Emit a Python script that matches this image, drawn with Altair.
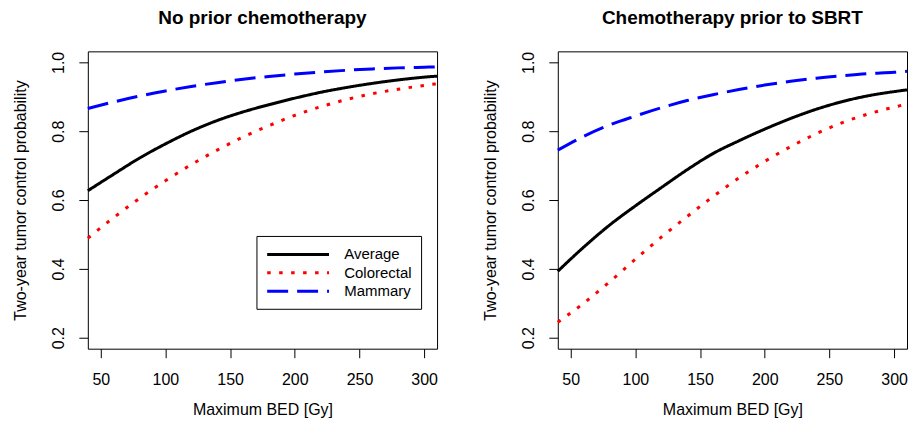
import altair as alt
import pandas as pd

# Maximum BED [Gy] sample points
bed = [40, 60, 80, 100, 120, 140, 160, 180, 200, 220, 240, 260, 280, 300, 310]
series_names = ["Average", "Colorectal", "Mammary"]

# Panel 1: No prior chemotherapy
no_chemo_average = [0.627, 0.675, 0.722, 0.763, 0.800, 0.831, 0.856, 0.877, 0.896, 0.913, 0.927, 0.939, 0.949, 0.957, 0.960]
no_chemo_colorectal = [0.489, 0.549, 0.605, 0.656, 0.703, 0.745, 0.783, 0.816, 0.846, 0.871, 0.892, 0.909, 0.922, 0.933, 0.938]
no_chemo_mammary = [0.866, 0.885, 0.902, 0.917, 0.930, 0.941, 0.951, 0.959, 0.966, 0.972, 0.977, 0.981, 0.984, 0.986, 0.987]

# Panel 2: Chemotherapy prior to SBRT
chemo_average = [0.393, 0.463, 0.527, 0.583, 0.636, 0.688, 0.735, 0.772, 0.806, 0.837, 0.864, 0.886, 0.903, 0.915, 0.920]
chemo_colorectal = [0.245, 0.300, 0.362, 0.428, 0.492, 0.552, 0.610, 0.664, 0.712, 0.755, 0.793, 0.825, 0.850, 0.870, 0.879]
chemo_mammary = [0.745, 0.785, 0.818, 0.844, 0.868, 0.889, 0.906, 0.921, 0.934, 0.945, 0.954, 0.961, 0.967, 0.971, 0.974]

x_ticks = [50, 100, 150, 200, 250, 300]
y_ticks = [0.2, 0.4, 0.6, 0.8, 1.0]
colors = ["#000000", "#FF0000", "#0000FF"]
dashes = [[1, 0], [3.5, 8.5], [21, 9]]

FONT = "Liberation Sans"


def make_df(avg, col, mam):
    rows = []
    for name, vals in zip(series_names, [avg, col, mam]):
        for x, y in zip(bed, vals):
            rows.append({"bed": x, "p": y, "series": name})
    return pd.DataFrame(rows)


def panel(df, title, show_legend):
    if show_legend:
        legend = alt.Legend(
            title=None,
            orient="none",
            legendX=169,
            legendY=185,
            fillColor="white",
            strokeColor="black",
            padding=9,
            symbolType="M-1,0H7",
            symbolSize=240,
            symbolStrokeWidth=3,
            labelOffset=60,
            labelFontSize=15,
            labelFont=FONT,
            labelColor="black",
            rowPadding=0.5,
        )
    else:
        legend = None
    return (
        alt.Chart(
            df,
            title=alt.Title(
                title,
                fontSize=19,
                fontWeight="bold",
                font=FONT,
                color="black",
                anchor="middle",
                frame="group",
                offset=23,
            ),
        )
        .mark_line(strokeWidth=3, interpolate="monotone", strokeCap="butt")
        .encode(
            x=alt.X(
                "bed:Q",
                scale=alt.Scale(domain=[40, 310], nice=False, zero=False),
                axis=alt.Axis(
                    values=x_ticks,
                    title="Maximum BED [Gy]",
                    tickSize=9,
                    labelPadding=14,
                    titlePadding=14,
                    grid=False,
                    domain=False,
                ),
            ),
            y=alt.Y(
                "p:Q",
                scale=alt.Scale(domain=[0.168, 1.032], nice=False, zero=False),
                axis=alt.Axis(
                    values=y_ticks,
                    format=".1f",
                    title="Two-year tumor control probability",
                    labelAngle=-90,
                    labelAlign="center",
                    labelBaseline="bottom",
                    tickSize=9,
                    labelPadding=12,
                    titlePadding=22,
                    grid=False,
                    domain=False,
                ),
            ),
            color=alt.Color(
                "series:N",
                scale=alt.Scale(domain=series_names, range=colors),
                legend=legend,
            ),
            strokeDash=alt.StrokeDash(
                "series:N",
                scale=alt.Scale(domain=series_names, range=dashes),
                legend=legend,
            ),
        )
        .properties(width=350, height=298)
    )


left = panel(make_df(no_chemo_average, no_chemo_colorectal, no_chemo_mammary),
             "No prior chemotherapy", True)
right = panel(make_df(chemo_average, chemo_colorectal, chemo_mammary),
              "Chemotherapy prior to SBRT", False)

chart = (
    alt.hconcat(left, right, spacing=38)
    .resolve_scale(color="independent", strokeDash="independent")
    .resolve_legend(color="independent", strokeDash="independent")
    .properties(padding={"left": 4, "top": 0, "right": 0, "bottom": 0},
                background="white")
    .configure_view(stroke="black", strokeWidth=1)
    .configure_axis(
        grid=False,
        domain=False,
        labelFont=FONT,
        titleFont=FONT,
        labelFontSize=16,
        titleFontSize=16,
        titleFontWeight="normal",
        labelColor="black",
        titleColor="black",
        tickColor="black",
        tickWidth=1,
    )
)

chart.save("out.html", embed_options={"renderer": "svg", "actions": False})
